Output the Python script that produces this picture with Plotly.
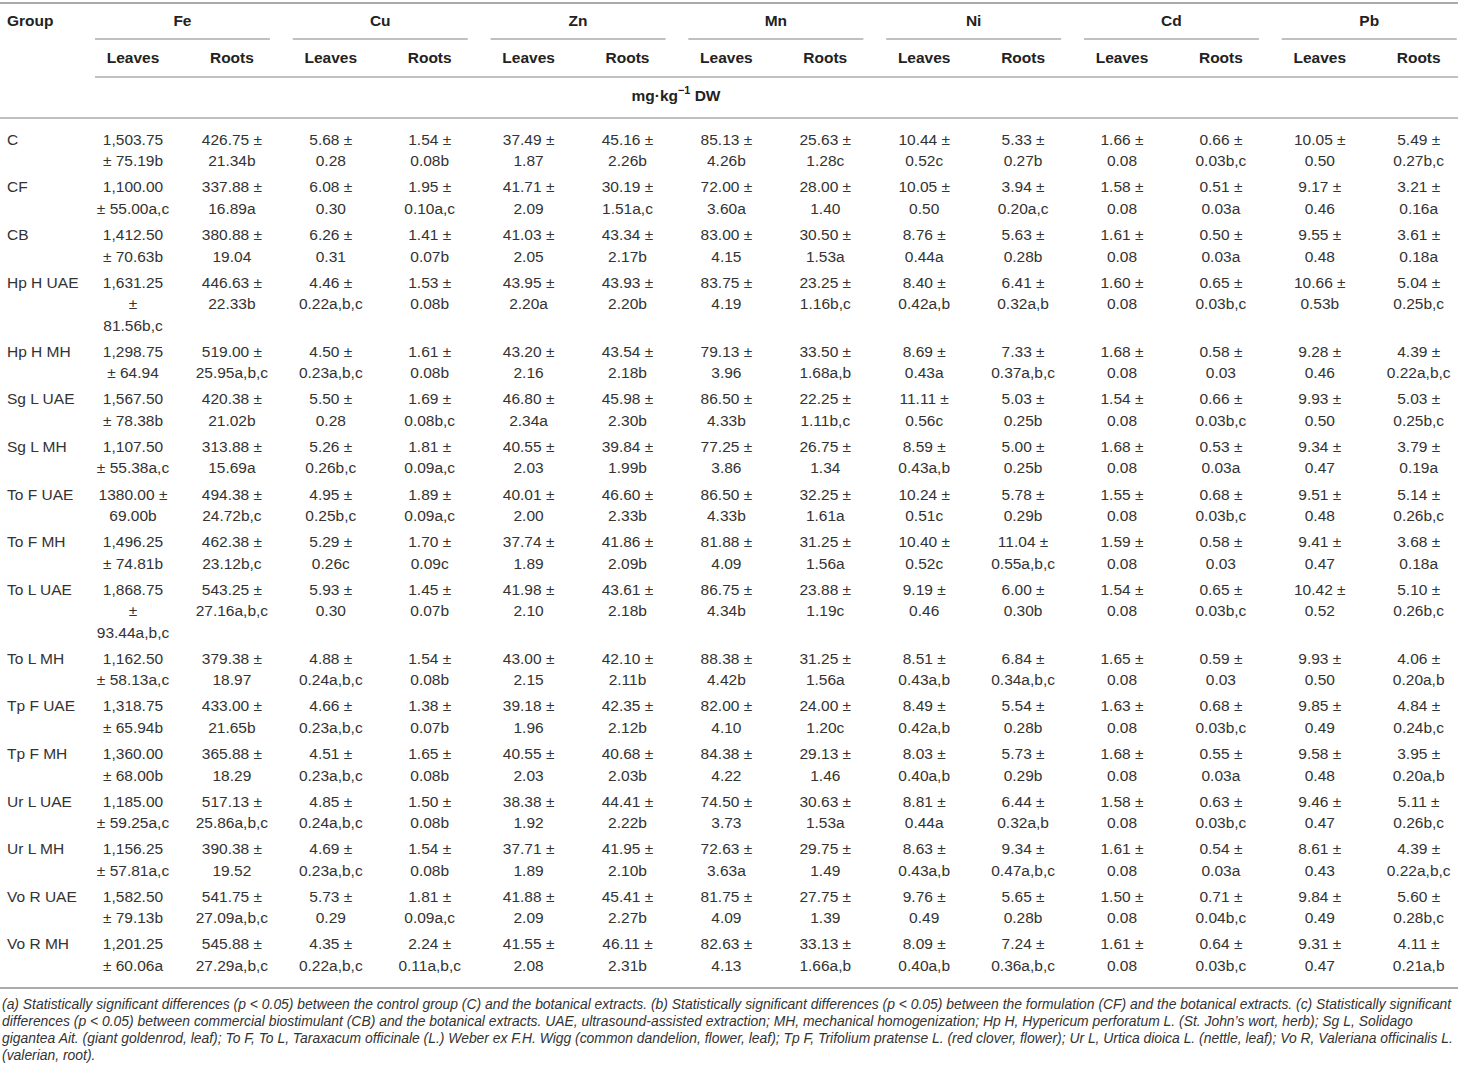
import plotly.graph_objects as go

# Data
groups = ["C", "CF", "CB", "Hp H UAE", "Hp H MH", "Sg L UAE", "Sg L MH", "To F UAE", "To F MH",
          "To L UAE", "To L MH", "Tp F UAE", "Tp F MH", "Ur L UAE", "Ur L MH", "Vo R UAE", "Vo R MH"]
metals = ["Fe", "Cu", "Zn", "Mn", "Ni", "Cd", "Pb"]
parts = ["Leaves", "Roots"]
unit_label = "mg·kg<sup>−1</sup> DW"

# Fe leaves keeps the line breaks used in the printed table
fe_leaves = ["1,503.75\n± 75.19b", "1,100.00\n± 55.00a,c", "1,412.50\n± 70.63b", "1,631.25\n±\n81.56b,c",
             "1,298.75\n± 64.94", "1,567.50\n± 78.38b", "1,107.50\n± 55.38a,c", "1380.00 ±\n69.00b",
             "1,496.25\n± 74.81b", "1,868.75\n±\n93.44a,b,c", "1,162.50\n± 58.13a,c", "1,318.75\n± 65.94b",
             "1,360.00\n± 68.00b", "1,185.00\n± 59.25a,c", "1,156.25\n± 57.81a,c", "1,582.50\n± 79.13b",
             "1,201.25\n± 60.06a"]
fe_roots = ["426.75 ± 21.34b", "337.88 ± 16.89a", "380.88 ± 19.04", "446.63 ± 22.33b", "519.00 ± 25.95a,b,c",
            "420.38 ± 21.02b", "313.88 ± 15.69a", "494.38 ± 24.72b,c", "462.38 ± 23.12b,c", "543.25 ± 27.16a,b,c",
            "379.38 ± 18.97", "433.00 ± 21.65b", "365.88 ± 18.29", "517.13 ± 25.86a,b,c", "390.38 ± 19.52",
            "541.75 ± 27.09a,b,c", "545.88 ± 27.29a,b,c"]
cu_leaves = ["5.68 ± 0.28", "6.08 ± 0.30", "6.26 ± 0.31", "4.46 ± 0.22a,b,c", "4.50 ± 0.23a,b,c", "5.50 ± 0.28",
             "5.26 ± 0.26b,c", "4.95 ± 0.25b,c", "5.29 ± 0.26c", "5.93 ± 0.30", "4.88 ± 0.24a,b,c",
             "4.66 ± 0.23a,b,c", "4.51 ± 0.23a,b,c", "4.85 ± 0.24a,b,c", "4.69 ± 0.23a,b,c", "5.73 ± 0.29",
             "4.35 ± 0.22a,b,c"]
cu_roots = ["1.54 ± 0.08b", "1.95 ± 0.10a,c", "1.41 ± 0.07b", "1.53 ± 0.08b", "1.61 ± 0.08b", "1.69 ± 0.08b,c",
            "1.81 ± 0.09a,c", "1.89 ± 0.09a,c", "1.70 ± 0.09c", "1.45 ± 0.07b", "1.54 ± 0.08b", "1.38 ± 0.07b",
            "1.65 ± 0.08b", "1.50 ± 0.08b", "1.54 ± 0.08b", "1.81 ± 0.09a,c", "2.24 ± 0.11a,b,c"]
zn_leaves = ["37.49 ± 1.87", "41.71 ± 2.09", "41.03 ± 2.05", "43.95 ± 2.20a", "43.20 ± 2.16", "46.80 ± 2.34a",
             "40.55 ± 2.03", "40.01 ± 2.00", "37.74 ± 1.89", "41.98 ± 2.10", "43.00 ± 2.15", "39.18 ± 1.96",
             "40.55 ± 2.03", "38.38 ± 1.92", "37.71 ± 1.89", "41.88 ± 2.09", "41.55 ± 2.08"]
zn_roots = ["45.16 ± 2.26b", "30.19 ± 1.51a,c", "43.34 ± 2.17b", "43.93 ± 2.20b", "43.54 ± 2.18b", "45.98 ± 2.30b",
            "39.84 ± 1.99b", "46.60 ± 2.33b", "41.86 ± 2.09b", "43.61 ± 2.18b", "42.10 ± 2.11b", "42.35 ± 2.12b",
            "40.68 ± 2.03b", "44.41 ± 2.22b", "41.95 ± 2.10b", "45.41 ± 2.27b", "46.11 ± 2.31b"]
mn_leaves = ["85.13 ± 4.26b", "72.00 ± 3.60a", "83.00 ± 4.15", "83.75 ± 4.19", "79.13 ± 3.96", "86.50 ± 4.33b",
             "77.25 ± 3.86", "86.50 ± 4.33b", "81.88 ± 4.09", "86.75 ± 4.34b", "88.38 ± 4.42b", "82.00 ± 4.10",
             "84.38 ± 4.22", "74.50 ± 3.73", "72.63 ± 3.63a", "81.75 ± 4.09", "82.63 ± 4.13"]
mn_roots = ["25.63 ± 1.28c", "28.00 ± 1.40", "30.50 ± 1.53a", "23.25 ± 1.16b,c", "33.50 ± 1.68a,b",
            "22.25 ± 1.11b,c", "26.75 ± 1.34", "32.25 ± 1.61a", "31.25 ± 1.56a", "23.88 ± 1.19c", "31.25 ± 1.56a",
            "24.00 ± 1.20c", "29.13 ± 1.46", "30.63 ± 1.53a", "29.75 ± 1.49", "27.75 ± 1.39", "33.13 ± 1.66a,b"]
ni_leaves = ["10.44 ± 0.52c", "10.05 ± 0.50", "8.76 ± 0.44a", "8.40 ± 0.42a,b", "8.69 ± 0.43a", "11.11 ± 0.56c",
             "8.59 ± 0.43a,b", "10.24 ± 0.51c", "10.40 ± 0.52c", "9.19 ± 0.46", "8.51 ± 0.43a,b", "8.49 ± 0.42a,b",
             "8.03 ± 0.40a,b", "8.81 ± 0.44a", "8.63 ± 0.43a,b", "9.76 ± 0.49", "8.09 ± 0.40a,b"]
ni_roots = ["5.33 ± 0.27b", "3.94 ± 0.20a,c", "5.63 ± 0.28b", "6.41 ± 0.32a,b", "7.33 ± 0.37a,b,c", "5.03 ± 0.25b",
            "5.00 ± 0.25b", "5.78 ± 0.29b", "11.04 ± 0.55a,b,c", "6.00 ± 0.30b", "6.84 ± 0.34a,b,c", "5.54 ± 0.28b",
            "5.73 ± 0.29b", "6.44 ± 0.32a,b", "9.34 ± 0.47a,b,c", "5.65 ± 0.28b", "7.24 ± 0.36a,b,c"]
cd_leaves = ["1.66 ± 0.08", "1.58 ± 0.08", "1.61 ± 0.08", "1.60 ± 0.08", "1.68 ± 0.08", "1.54 ± 0.08",
             "1.68 ± 0.08", "1.55 ± 0.08", "1.59 ± 0.08", "1.54 ± 0.08", "1.65 ± 0.08", "1.63 ± 0.08",
             "1.68 ± 0.08", "1.58 ± 0.08", "1.61 ± 0.08", "1.50 ± 0.08", "1.61 ± 0.08"]
cd_roots = ["0.66 ± 0.03b,c", "0.51 ± 0.03a", "0.50 ± 0.03a", "0.65 ± 0.03b,c", "0.58 ± 0.03", "0.66 ± 0.03b,c",
            "0.53 ± 0.03a", "0.68 ± 0.03b,c", "0.58 ± 0.03", "0.65 ± 0.03b,c", "0.59 ± 0.03", "0.68 ± 0.03b,c",
            "0.55 ± 0.03a", "0.63 ± 0.03b,c", "0.54 ± 0.03a", "0.71 ± 0.04b,c", "0.64 ± 0.03b,c"]
pb_leaves = ["10.05 ± 0.50", "9.17 ± 0.46", "9.55 ± 0.48", "10.66 ± 0.53b", "9.28 ± 0.46", "9.93 ± 0.50",
             "9.34 ± 0.47", "9.51 ± 0.48", "9.41 ± 0.47", "10.42 ± 0.52", "9.93 ± 0.50", "9.85 ± 0.49",
             "9.58 ± 0.48", "9.46 ± 0.47", "8.61 ± 0.43", "9.84 ± 0.49", "9.31 ± 0.47"]
pb_roots = ["5.49 ± 0.27b,c", "3.21 ± 0.16a", "3.61 ± 0.18a", "5.04 ± 0.25b,c", "4.39 ± 0.22a,b,c",
            "5.03 ± 0.25b,c", "3.79 ± 0.19a", "5.14 ± 0.26b,c", "3.68 ± 0.18a", "5.10 ± 0.26b,c", "4.06 ± 0.20a,b",
            "4.84 ± 0.24b,c", "3.95 ± 0.20a,b", "5.11 ± 0.26b,c", "4.39 ± 0.22a,b,c", "5.60 ± 0.28b,c",
            "4.11 ± 0.21a,b"]

footnote = [
    "(a) Statistically significant differences (<i>p</i> < 0.05) between the control group (C) and the botanical extracts. "
    "(b) Statistically significant differences (<i>p</i> < 0.05) between the formulation (CF) and the botanical extracts. "
    "(c) Statistically significant",
    "differences (<i>p</i> < 0.05) between commercial biostimulant (CB) and the botanical extracts. UAE, ultrasound-assisted "
    "extraction; MH, mechanical homogenization; Hp H, Hypericum perforatum L. (St. John’s wort, herb); Sg L, Solidago",
    "gigantea Ait. (giant goldenrod, leaf); To F, To L, Taraxacum officinale (L.) Weber ex F.H. Wigg (common dandelion, "
    "flower, leaf); Tp F, Trifolium pratense L. (red clover, flower); Ur L, Urtica dioica L. (nettle, leaf); Vo R, "
    "Valeriana officinalis L.",
    "(valerian, root).",
]

columns = [fe_leaves, fe_roots, cu_leaves, cu_roots, zn_leaves, zn_roots, mn_leaves, mn_roots,
           ni_leaves, ni_roots, cd_leaves, cd_roots, pb_leaves, pb_roots]

# Layout (pixel-like axis units)
W, H = 1458, 1076
col0, col_w = 133, 98.9
first_line, line_h, row_pad = 141, 21.5, 4.6
rule_c = "#ababab"
txt_c = "#333333"
hdr_c = "#222222"
font_fam = "Liberation Sans, Arial, sans-serif"
fs = 15.5


def split_cell(s):
    if "\n" in s:
        return s.split("\n")
    mean, sd = s.split(" ± ")
    return [mean + " ±", sd]


cells = [[split_cell(c[r]) for c in columns] for r in range(len(groups))]

# row top positions from line counts
row_y = []
y = first_line
for r in range(len(groups)):
    row_y.append(y)
    n = max(len(c) for c in cells[r])
    y += n * line_h + row_pad

cx, cy, ct = [], [], []
for r in range(len(groups)):
    for j in range(len(columns)):
        for k, line in enumerate(cells[r][j]):
            cx.append(col0 + j * col_w)
            cy.append(row_y[r] + k * line_h)
            ct.append(line)

fig = go.Figure()

fig.add_trace(go.Scatter(
    x=cx, y=cy, text=ct, mode="text", textposition="middle center",
    textfont=dict(family=font_fam, size=fs, color=txt_c), hoverinfo="skip", showlegend=False
))

# group labels
fig.add_trace(go.Scatter(
    x=[7] * len(groups), y=row_y, text=groups, mode="text", textposition="middle right",
    textfont=dict(family=font_fam, size=fs, color=txt_c), hoverinfo="skip", showlegend=False
))

# header: Group, metals, parts, unit
metal_x = [col0 + (2 * i + 0.5) * col_w for i in range(len(metals))]
part_x = [col0 + j * col_w for j in range(len(columns))]
part_t = [parts[j % 2] for j in range(len(columns))]
fig.add_trace(go.Scatter(
    x=metal_x + part_x, y=[22] * len(metals) + [59] * len(part_x),
    text=["<b>%s</b>" % m for m in metals] + ["<b>%s</b>" % p for p in part_t],
    mode="text", textposition="middle center",
    textfont=dict(family=font_fam, size=fs, color=hdr_c), hoverinfo="skip", showlegend=False
))
fig.add_trace(go.Scatter(
    x=[7], y=[22], text=["<b>Group</b>"], mode="text", textposition="middle right",
    textfont=dict(family=font_fam, size=fs, color=hdr_c), hoverinfo="skip", showlegend=False
))
fig.add_trace(go.Scatter(
    x=[676], y=[97], text=["<b>%s</b>" % unit_label], mode="text", textposition="middle center",
    textfont=dict(family=font_fam, size=fs, color=hdr_c), hoverinfo="skip", showlegend=False
))

# footnote
fig.add_trace(go.Scatter(
    x=[2] * len(footnote), y=[1006 + i * 16.7 for i in range(len(footnote))],
    text=["<i>%s</i>" % t for t in footnote], mode="text", textposition="middle right",
    textfont=dict(family=font_fam, size=13.9, color=txt_c), hoverinfo="skip", showlegend=False
))

# rules
shapes = [
    dict(type="line", x0=0, x1=W, y0=3, y1=3, line=dict(color=rule_c, width=2)),
    dict(type="line", x0=95, x1=W, y0=77, y1=77, line=dict(color=rule_c, width=1.5)),
    dict(type="line", x0=0, x1=W, y0=118, y1=118, line=dict(color=rule_c, width=1.5)),
    dict(type="line", x0=0, x1=W, y0=988, y1=988, line=dict(color=rule_c, width=2)),
]
for mx in metal_x:
    shapes.append(dict(type="line", x0=mx - 87.5, x1=mx + 87.5, y0=39, y1=39,
                       line=dict(color=rule_c, width=1.5)))
for s in shapes:
    s.update(xref="x", yref="y", layer="below")

fig.update_layout(
    width=W, height=H, autosize=False,
    margin=dict(l=0, r=0, t=0, b=0),
    paper_bgcolor="white", plot_bgcolor="white",
    shapes=shapes,
    xaxis=dict(range=[0, W], visible=False, fixedrange=True),
    yaxis=dict(range=[H, 0], visible=False, fixedrange=True),
)

# page body has a default 8px margin; drop it so the figure fills the window
fig.write_html("out.html", config={"displayModeBar": False},
               post_script="document.body.style.margin='0';")
